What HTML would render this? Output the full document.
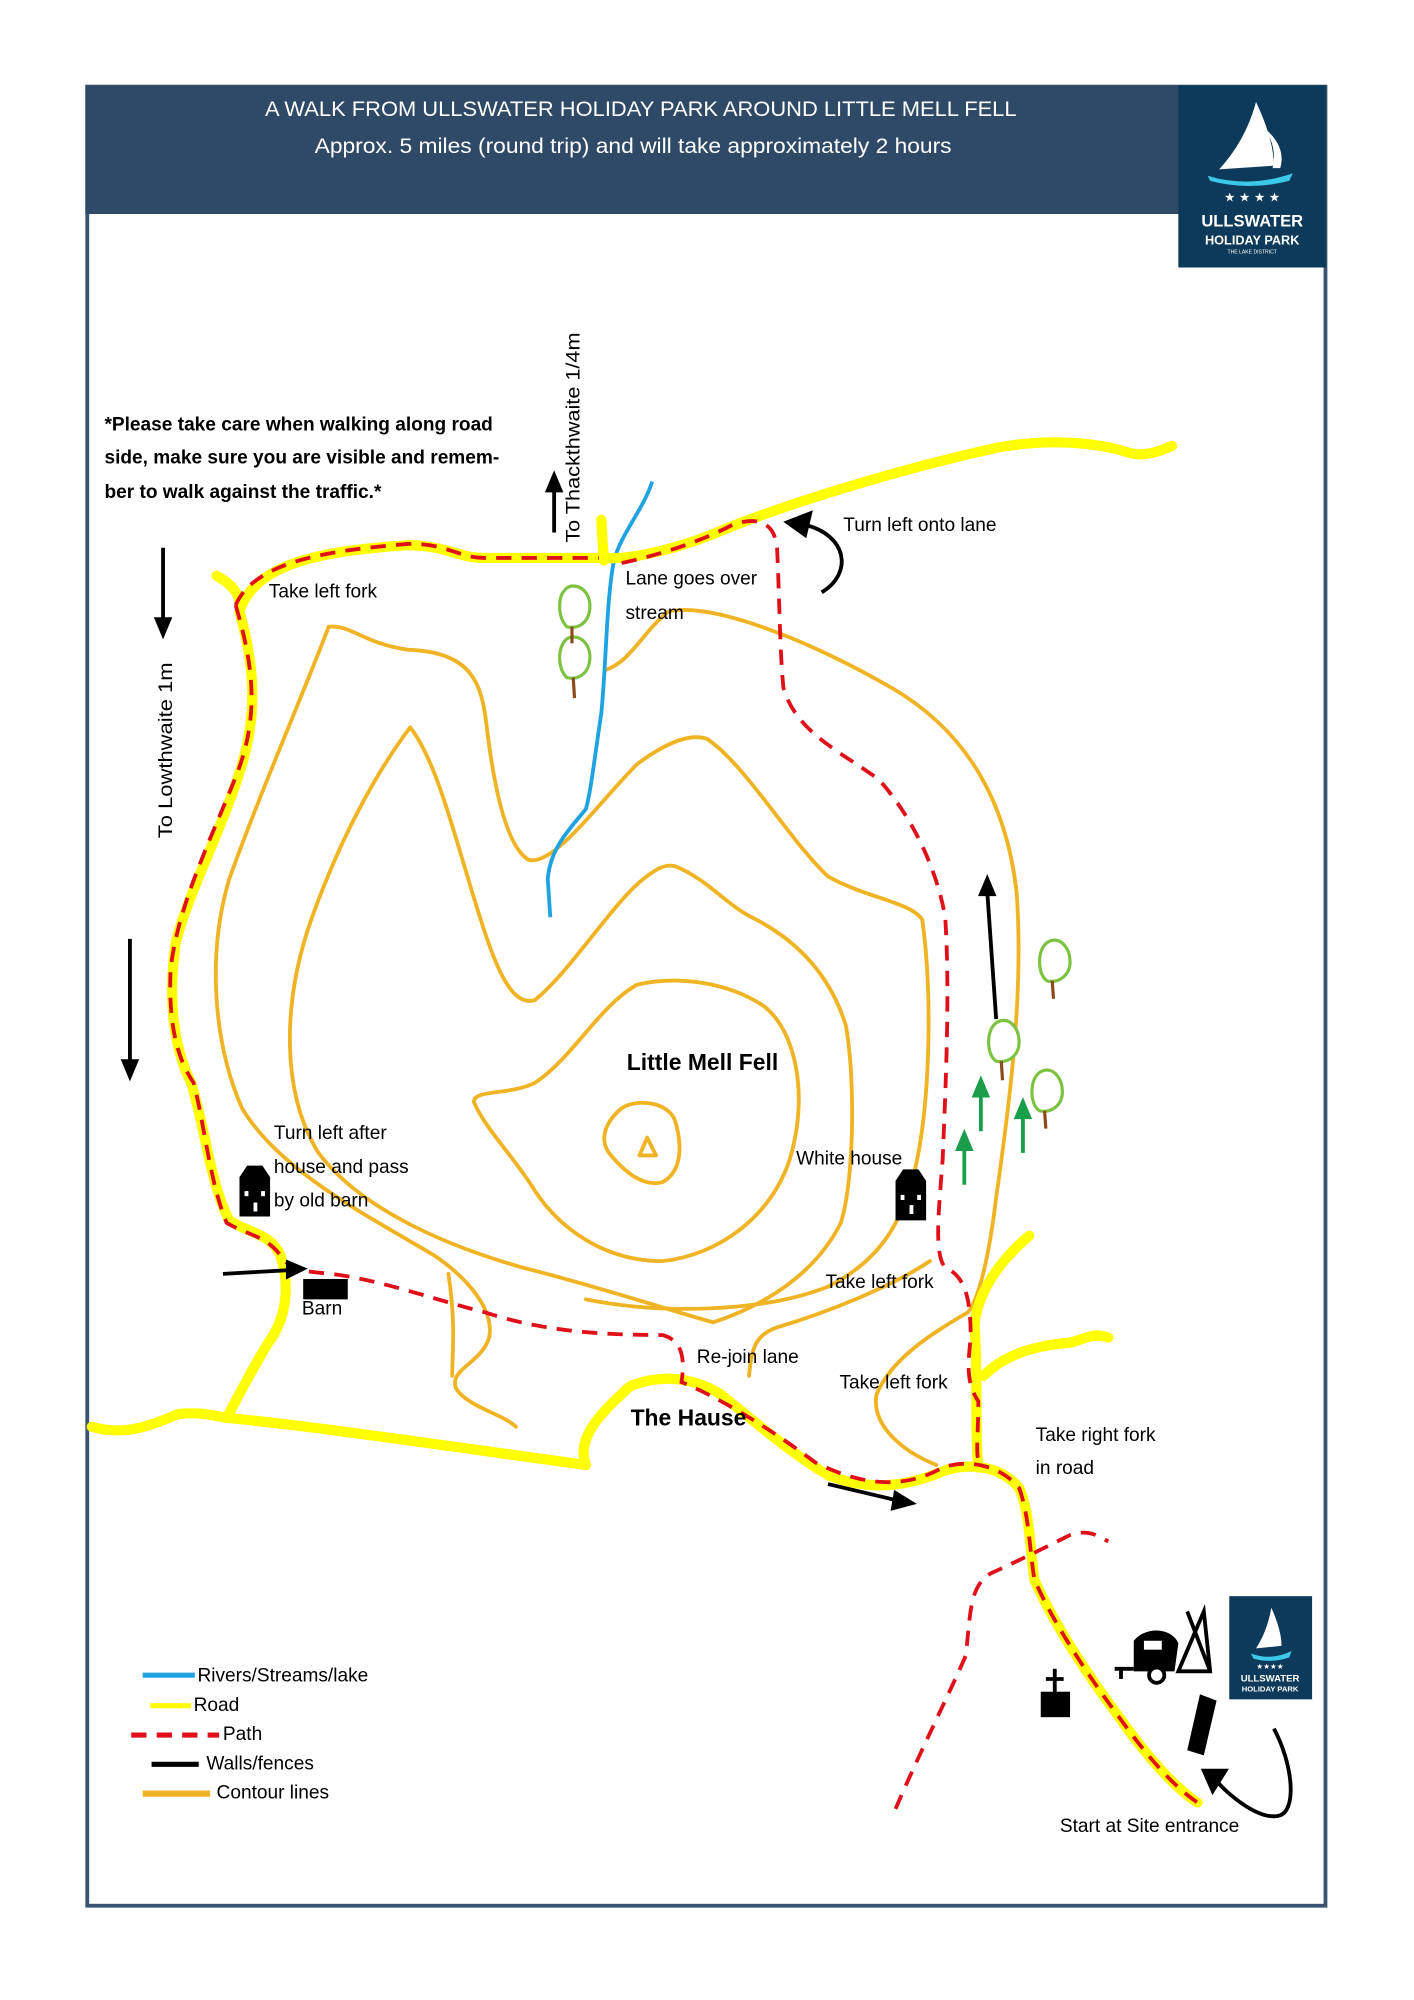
<!DOCTYPE html>
<html><head><meta charset="utf-8"><style>
html,body{margin:0;padding:0;background:#fff}
svg{display:block}
text{font-family:"Liberation Sans",sans-serif}
</style></head><body>
<svg width="1414" height="2000" viewBox="0 0 1110 1570" xmlns="http://www.w3.org/2000/svg">
<rect x="0" y="0" width="1110" height="1570" fill="#fff"/>
<rect x="68.5" y="68" width="972" height="1428" fill="none" stroke="#3b5570" stroke-width="3"/>
<rect x="67" y="67" width="860" height="101" fill="#2e4a67"/>
<rect x="925" y="67" width="116" height="143" fill="#0d3a5a"/>
<text x="503" y="91" font-size="17" fill="#fff" text-anchor="middle" textLength="590" lengthAdjust="spacingAndGlyphs">A WALK FROM ULLSWATER HOLIDAY PARK AROUND LITTLE MELL FELL</text>
<text x="497" y="120" font-size="17" fill="#fff" text-anchor="middle" textLength="500" lengthAdjust="spacingAndGlyphs">Approx. 5 miles (round trip) and will take approximately 2 hours</text>
<path d="M986 80 Q1000 110 1000 130 L957 133 Q978 110 986 80Z" fill="#fff"/>
<path d="M992 100 Q1010 115 1005 132 L999 132 Q1003 115 992 100Z" fill="#fff"/>
<path d="M948 138 Q980 148 1015 136 L1012 142 Q980 150 950 142Z" fill="#3cc8e8"/>
<text x="983" y="158" font-size="10" fill="#fff" text-anchor="middle">★ ★ ★ ★</text>
<text x="983" y="178" font-size="13" font-weight="bold" fill="#fff" text-anchor="middle">ULLSWATER</text>
<text x="983" y="192" font-size="10" font-weight="bold" fill="#fff" text-anchor="middle">HOLIDAY PARK</text>
<text x="983" y="199" font-size="4" fill="#fff" text-anchor="middle">THE LAKE DISTRICT</text>

<text font-size="15" font-weight="bold" fill="#000"><tspan x="82" y="338">*Please take care when walking along road</tspan><tspan x="82" y="364">side, make sure you are visible and remem-</tspan><tspan x="82" y="391">ber to walk against the traffic.*</tspan></text>

<g fill="none" stroke="#f0b323" stroke-width="3" stroke-linejoin="round" stroke-linecap="round">
<path d="M475 526 C495 520 505 495 525 480 C560 472 640 505 700 540 C760 575 790 630 798 700 C804 780 792 870 782 940 C776 990 768 1020 760 1030 C735 1045 700 1065 688 1095 C684 1120 710 1140 735 1150"/>
<path d="M258 492 C275 490 285 505 320 510 C370 512 378 535 382 570 C388 620 398 665 415 675 C435 680 470 630 500 600 C520 585 540 575 555 580 C585 600 620 660 650 688 C680 705 715 708 724 722 C732 780 730 860 720 910 C710 960 690 990 650 1010 C600 1030 520 1032 460 1020"/>
<path d="M258 492 C240 540 205 620 180 690 C162 750 168 820 190 870 C220 920 290 955 340 985 C370 1005 388 1030 384 1050 C378 1070 352 1075 358 1090 C368 1105 395 1110 405 1120"/>
<path d="M322 571 C345 600 360 670 380 730 C393 770 405 790 420 785 C450 760 480 710 505 690 C515 682 522 678 530 680 C555 690 570 710 590 720 C620 735 650 760 664 805 C672 850 670 930 660 960 C640 1000 600 1025 560 1038"/>
<path d="M322 571 C300 600 270 650 245 720 C220 790 222 860 250 905 C280 945 340 975 410 995 C470 1010 530 1030 560 1038"/>
<path d="M500 773 C470 790 450 830 420 850 C400 860 372 855 372 865 C380 885 405 910 420 935 C440 965 475 990 520 990 C565 985 605 955 620 910 C635 860 625 810 600 790 C570 770 530 766 500 773Z"/>
<path d="M488 870 C500 862 525 865 530 880 C536 900 535 920 520 928 C505 932 490 920 478 905 C470 893 476 880 488 870Z"/>
<path d="M508 893 L502 907 L515 907Z"/>
<path d="M588 1080 C590 1060 592 1048 610 1042 C650 1030 700 1010 730 990"/>
<path d="M352 1000 C358 1040 355 1060 355 1080"/>
</g>
<path d="M512 378 C505 400 488 418 482 440 C476 470 476 520 472 560 C466 600 464 620 460 635 C448 650 432 665 430 690 L432 720" fill="none" stroke="#1fa3e0" stroke-width="3"/>

<g fill="none" stroke="#ffff00" stroke-width="8" stroke-linecap="round" stroke-linejoin="round">
<path d="M170 452 C185 460 190 470 188 480 C200 440 260 432 320 428 C350 428 360 438 380 438 L472 438 C500 440 540 428 570 415 C620 395 700 370 780 352 C830 342 870 350 885 355 C900 360 915 352 920 350"/>
<path d="M472 408 L474 440"/>
<path d="M188 480 C196 510 205 550 190 600 C175 650 148 700 138 740 C132 780 135 820 150 850 C160 880 165 930 180 958 C195 968 212 968 220 985 C228 1010 225 1035 210 1055 C195 1080 185 1100 178 1113"/>
<path d="M72 1120 C100 1128 120 1118 140 1110 C160 1108 170 1112 178 1113 C250 1120 350 1135 460 1150 C452 1130 470 1110 495 1088 C520 1078 545 1082 565 1094 C595 1118 620 1140 650 1158 C680 1170 710 1168 740 1155 C760 1148 785 1150 800 1168 C808 1185 808 1210 812 1240 C825 1270 850 1310 880 1350 C905 1385 925 1405 940 1415"/>
<path d="M768 1152 C765 1120 768 1080 765 1040 C768 1010 790 985 808 970"/>
<path d="M772 1080 C790 1062 815 1056 840 1054 C855 1050 858 1046 870 1050"/>
</g>
<g fill="none" stroke="#e0101a" stroke-width="3" stroke-dasharray="12 8">
<path d="M185 475 C200 440 260 432 320 427 C350 426 360 438 380 438 L470 438 M488 442 C520 435 550 425 575 412 C595 405 608 410 610 430 C612 470 612 510 615 540 C625 575 660 590 690 612 C715 640 735 680 742 720 C746 780 742 860 740 910 C737 950 733 985 742 995 C758 1002 762 1020 762 1050 C760 1070 758 1085 768 1100 C768 1130 765 1145 770 1150"/>
<path d="M185 475 C198 520 205 560 185 610 C165 660 140 710 134 760 C132 800 138 830 152 850 C160 880 165 930 178 960 C195 970 210 970 222 988 C230 998 240 998 260 1000 C300 1005 340 1020 380 1030 C420 1043 460 1048 520 1048 C535 1052 538 1065 535 1085 C560 1095 600 1118 640 1148 C680 1168 712 1168 740 1152 C760 1145 785 1150 800 1168 C808 1190 808 1215 812 1240 C825 1270 850 1310 880 1350 C905 1385 925 1405 940 1415"/>
<path d="M703 1420 C720 1380 745 1330 758 1300 C762 1270 760 1245 778 1235 C800 1225 820 1215 840 1205 C855 1200 862 1206 870 1210"/>
</g>
<g stroke="#000" stroke-width="3" fill="#000">
<line x1="128" y1="430" x2="128" y2="488"/><path d="M123 486 L133 486 L128 498Z"/>
<line x1="102" y1="737" x2="102" y2="835"/><path d="M97 833 L107 833 L102 845Z"/>
<line x1="435" y1="418" x2="435" y2="383"/><path d="M430 385 L440 385 L435 373Z"/>
<line x1="782" y1="800" x2="775" y2="700"/><path d="M770 702 L780 702 L775 690Z"/>
<line x1="175" y1="1000" x2="228" y2="997"/><path d="M226 991 L238 996 L226 1002Z"/>
<line x1="650" y1="1165" x2="705" y2="1178"/><path d="M703 1172 L716 1180 L701 1184Z"/>
<path d="M645 465 C670 450 665 420 632 412" fill="none"/><path d="M618 410 L636 403 L632 420Z"/>
<path d="M1000 1357 C1015 1385 1018 1420 1005 1425 C990 1430 965 1410 955 1398" fill="none"/><path d="M945 1390 L962 1390 L952 1406Z"/>
</g>
<path d="M188 945 L188 924 L194 915 L206 915 L212 924 L212 955 L188 955Z" fill="#000"/>
<rect x="192" y="935" width="3" height="4" fill="#fff"/><rect x="205" y="935" width="3" height="4" fill="#fff"/><rect x="199" y="944" width="3" height="7" fill="#fff"/>
<path d="M703 948 L703 927 L709 918 L721 918 L727 927 L727 958 L703 958Z" fill="#000"/>
<rect x="707" y="938" width="3" height="4" fill="#fff"/><rect x="720" y="938" width="3" height="4" fill="#fff"/><rect x="714" y="946" width="3" height="7" fill="#fff"/>
<rect x="238" y="1004" width="35" height="16" fill="#000"/>
<g fill="#fff" stroke="#7ec242" stroke-width="2.5">
<path d="M442 465 C438 470 438 485 445 492 C455 494 462 488 463 478 C464 468 458 460 450 460 C446 460 444 462 442 465Z"/>
<path d="M442 505 C438 512 438 525 445 532 C455 534 462 528 463 518 C464 508 458 500 450 500 C446 500 444 502 442 505Z"/>
<path d="M818 745 C815 752 815 765 822 770 C832 772 840 765 840 755 C840 745 834 738 828 738 C823 738 820 741 818 745Z"/>
<path d="M778 808 C775 815 775 828 782 833 C792 835 800 828 800 818 C800 808 794 801 788 801 C783 801 780 804 778 808Z"/>
<path d="M812 847 C809 854 809 867 816 872 C826 874 834 867 834 857 C834 847 828 840 822 840 C817 840 814 843 812 847Z"/>
</g>
<g stroke="#8a4a1a" stroke-width="2.5">
<line x1="449" y1="492" x2="449" y2="505"/><line x1="450" y1="532" x2="451" y2="548"/>
<line x1="826" y1="770" x2="827" y2="784"/><line x1="786" y1="833" x2="787" y2="848"/><line x1="820" y1="872" x2="821" y2="886"/>
</g>
<g stroke="#1a9e4a" stroke-width="3" fill="#1a9e4a">
<line x1="770" y1="888" x2="770" y2="858"/><path d="M765 860 L775 860 L770 848Z"/>
<line x1="757" y1="930" x2="757" y2="900"/><path d="M752 902 L762 902 L757 890Z"/>
<line x1="803" y1="905" x2="803" y2="875"/><path d="M798 877 L808 877 L803 865Z"/>
</g>
<rect x="817" y="1328" width="23" height="20" fill="#000"/>
<line x1="828" y1="1310" x2="828" y2="1330" stroke="#000" stroke-width="3"/><line x1="821" y1="1318" x2="835" y2="1318" stroke="#000" stroke-width="3"/>
<path d="M890 1288 C900 1276 920 1278 925 1290 L922 1312 L890 1312Z" fill="#000"/>
<rect x="898" y="1288" width="14" height="7" fill="#fff"/>
<circle cx="908" cy="1315" r="6" fill="#fff" stroke="#000" stroke-width="3"/>
<line x1="875" y1="1310" x2="890" y2="1310" stroke="#000" stroke-width="3"/><line x1="880" y1="1310" x2="880" y2="1318" stroke="#000" stroke-width="3"/>
<path d="M945 1265 L925 1312 L950 1312 Z" fill="none" stroke="#000" stroke-width="3"/><line x1="932" y1="1265" x2="950" y2="1312" stroke="#000" stroke-width="3"/>
<path d="M942 1330 L955 1335 L945 1378 L932 1374Z" fill="#000"/>
<rect x="965" y="1253" width="65" height="81" fill="#0d3a5a"/>
<path d="M998 1262 Q1006 1280 1006 1292 L986 1294 Q995 1280 998 1262Z" fill="#fff"/>
<path d="M982 1298 Q998 1304 1014 1296 L1012 1301 Q998 1306 984 1302Z" fill="#3cc8e8"/>
<text x="997" y="1310" font-size="6" fill="#fff" text-anchor="middle">★★★★</text>
<text x="997" y="1320" font-size="7.5" font-weight="bold" fill="#fff" text-anchor="middle">ULLSWATER</text>
<text x="997" y="1328" font-size="6" font-weight="bold" fill="#fff" text-anchor="middle">HOLIDAY PARK</text>

<line x1="112" y1="1315" x2="153" y2="1315" stroke="#1fa3e0" stroke-width="4"/>
<line x1="118" y1="1339" x2="150" y2="1339" stroke="#ffff00" stroke-width="4"/>
<line x1="103" y1="1362" x2="172" y2="1362" stroke="#e0101a" stroke-width="4" stroke-dasharray="12 8"/>
<line x1="119" y1="1385" x2="156" y2="1385" stroke="#000" stroke-width="4"/>
<line x1="112" y1="1408" x2="165" y2="1408" stroke="#f0b323" stroke-width="5"/>
<g font-size="15" fill="#000">
<text x="155" y="1320">Rivers/Streams/lake</text>
<text x="152" y="1343">Road</text>
<text x="175" y="1366">Path</text>
<text x="162" y="1389">Walls/fences</text>
<text x="170" y="1412">Contour lines</text>
</g>

<g font-size="15" fill="#000">
<text x="211" y="469">Take left fork</text>
<text x="491" y="459">Lane goes over</text>
<text x="491" y="486">stream</text>
<text x="662" y="417">Turn left onto lane</text>
<text x="215" y="894">Turn left after</text>
<text x="215" y="921">house and pass</text>
<text x="215" y="947">by old barn</text>
<text x="625" y="914">White house</text>
<text x="237" y="1032">Barn</text>
<text x="648" y="1011">Take left fork</text>
<text x="547" y="1070">Re-join lane</text>
<text x="659" y="1090">Take left fork</text>
<text x="813" y="1131">Take right fork</text>
<text x="813" y="1157">in road</text>
<text x="832" y="1438">Start at Site entrance</text>
<text transform="translate(455 426) rotate(-90)" textLength="165" lengthAdjust="spacingAndGlyphs">To Thackthwaite 1/4m</text>
<text transform="translate(135 658) rotate(-90)" textLength="138" lengthAdjust="spacingAndGlyphs">To Lowthwaite 1m</text>
</g>
<text x="492" y="840" font-size="18" font-weight="bold">Little Mell Fell</text>
<text x="495" y="1119" font-size="18" font-weight="bold">The Hause</text>
</svg>
</body></html>
